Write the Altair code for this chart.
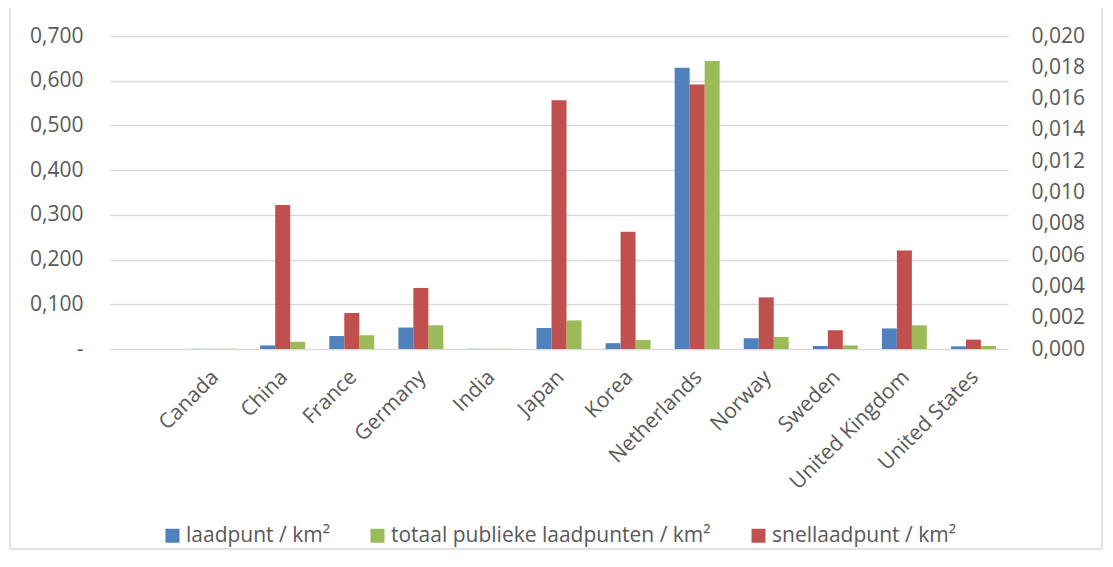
import altair as alt
import pandas as pd

countries = ["Canada", "China", "France", "Germany", "India", "Japan", "Korea",
             "Netherlands", "Norway", "Sweden", "United Kingdom", "United States"]
laadpunt = [0.0005, 0.008, 0.029, 0.048, 0.0005, 0.047, 0.013, 0.629, 0.024, 0.0067, 0.046, 0.006]
totaal = [0.0006, 0.016, 0.031, 0.053, 0.0005, 0.064, 0.020, 0.644, 0.027, 0.008, 0.053, 0.0067]
snel = [0.00001, 0.0092, 0.0023, 0.0039, 0.00001, 0.0159, 0.0075, 0.0169, 0.0033, 0.0012, 0.0063, 0.0006]

s_laad = "laadpunt / km²"
s_tot = "totaal publieke laadpunten / km²"
s_snel = "snellaadpunt / km²"

left_ticks = [0, 0.1, 0.2, 0.3, 0.4, 0.5, 0.6, 0.7]
right_ticks = [0, 0.002, 0.004, 0.006, 0.008, 0.010, 0.012, 0.014, 0.016, 0.018, 0.020]

blank = " "
x_domain = [blank] + countries
legend_order = [s_laad, s_tot, s_snel]
offset_order = [s_laad, s_snel, s_tot]
colors = ["#4F81BD", "#9BBB59", "#C0504D"]

df_left = pd.DataFrame({
    "land": countries * 2,
    "reeks": [s_laad] * len(countries) + [s_tot] * len(countries),
    "waarde": laadpunt + totaal,
})
df_right = pd.DataFrame({
    "land": countries,
    "reeks": [s_snel] * len(countries),
    "waarde": snel,
})

FONT = "Open Sans"
GREY = "#595959"

x_enc = alt.X(
    "land:N",
    scale=alt.Scale(domain=x_domain, paddingInner=0.349, paddingOuter=0.1745),
    axis=alt.Axis(labelAngle=-45, labelAlign="right", labelBaseline="top",
                  labelPadding=17, labelOffset=-6, labelFontSize=21, labelColor=GREY,
                  ticks=False, domain=False, grid=False, labelFont=FONT),
    title=None,
)
xo_enc = alt.XOffset("reeks:N", scale=alt.Scale(domain=offset_order, paddingInner=0, paddingOuter=0))
legend = alt.Legend(orient="none", legendX=52, legendY=489, direction="horizontal",
                    symbolType="square", symbolSize=196, symbolStrokeWidth=0,
                    labelFontSize=21, labelColor=GREY, labelFont=FONT,
                    columnPadding=37, labelOffset=3, padding=0, title=None,
                    labelLimit=500)
c_enc = alt.Color("reeks:N", scale=alt.Scale(domain=legend_order, range=colors), legend=legend)

left = alt.Chart(df_left).mark_bar().encode(
    x=x_enc,
    xOffset=xo_enc,
    y=alt.Y("waarde:Q", scale=alt.Scale(domain=[0, 0.7], nice=False),
            axis=alt.Axis(values=left_ticks,
                          labelExpr="datum.value == 0 ? '-\u00a0' : replace(format(datum.value, '.3f'), '.', ',')",
                          grid=True, gridColor="#D9D9D9", gridWidth=1.5,
                          domain=False, ticks=False, labelPadding=27,
                          labelFontSize=21, labelColor=GREY, labelFont=FONT),
            title=None),
    color=c_enc,
)

right = alt.Chart(df_right).mark_bar().encode(
    x=x_enc,
    xOffset=xo_enc,
    y=alt.Y("waarde:Q", scale=alt.Scale(domain=[0, 0.02], nice=False),
            axis=alt.Axis(orient="right", values=right_ticks,
                          labelExpr="replace(format(datum.value, '.3f'), '.', ',')",
                          grid=False, domain=False, ticks=False, labelPadding=23,
                          labelFontSize=21, labelColor=GREY, labelFont=FONT),
            title=None),
    color=c_enc,
)

frame = alt.Chart(pd.DataFrame({"a": [0]})).mark_rect(
    fill="transparent", stroke="#D9D9D9", strokeWidth=1.5
).encode(
    x=alt.value(-100), x2=alt.value(992), y=alt.value(-60), y2=alt.value(513)
)

chart = alt.layer(frame, left, right).resolve_scale(y="independent").properties(
    width=898, height=313,
    padding={"left": 102, "top": 28, "right": 97, "bottom": 210},
    autosize=alt.AutoSizeParams(type="none"),
).configure(font=FONT).configure_view(strokeWidth=0)

chart.save("out.html", embed_options={"renderer": "svg", "actions": False})
